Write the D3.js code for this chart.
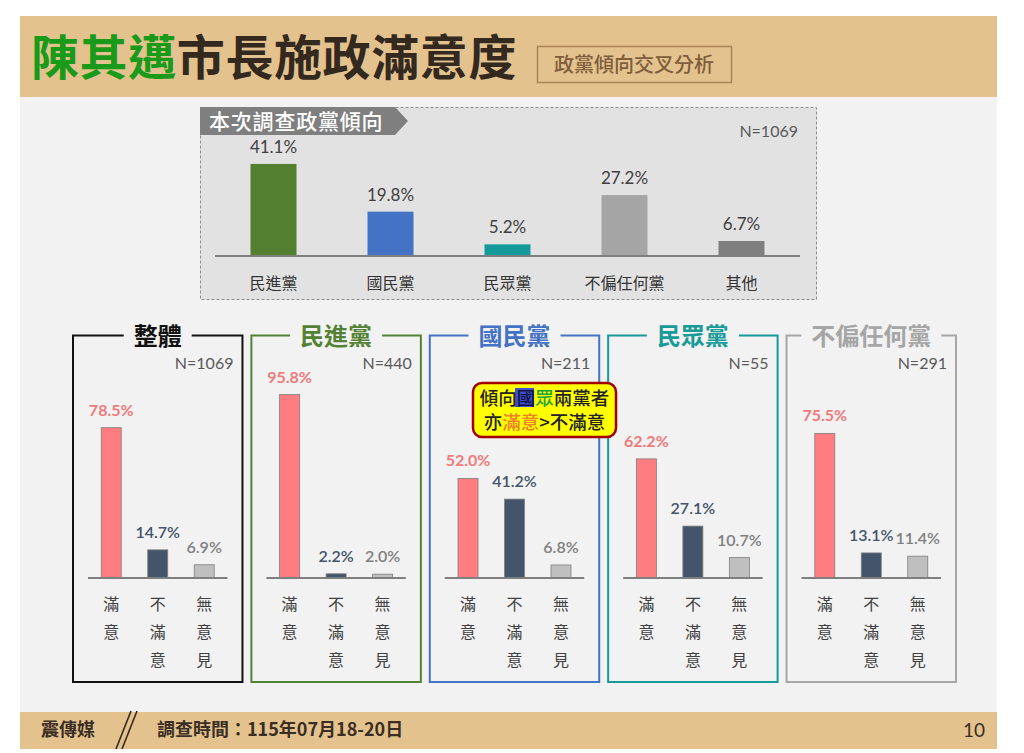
<!DOCTYPE html>
<html>
<head>
<meta charset="utf-8">
<script src="https://cdn.jsdelivr.net/npm/d3@7"></script>
<style>
  html, body { margin: 0; padding: 0; background: #ffffff; }
  svg { display: block; }
  text { font-family: "Noto Sans CJK TC", "Noto Sans", sans-serif; }
  .num { font-family: Lato, "Noto Sans CJK TC", sans-serif; }
</style>
</head>
<body>
<div id="chart"></div>
<script>
// ---- data ----
var partyCats = ["民進黨", "國民黨", "民眾黨", "不偏任何黨", "其他"];
var partyShare = [41.1, 19.8, 5.2, 27.2, 6.7];
var partyColors = ["#527f30", "#4472c4", "#159a9c", "#a5a5a5", "#7f7f7f"];

var groups = ["整體", "民進黨", "國民黨", "民眾黨", "不偏任何黨"];
var groupN = [1069, 440, 211, 55, 291];
var groupColors = ["#111111", "#548235", "#4472c4", "#179a98", "#a6a6a6"];

var answers = ["滿意", "不滿意", "無意見"];
var satisfied   = [78.5, 95.8, 52.0, 62.2, 75.5];
var unsatisfied = [14.7,  2.2, 41.2, 27.1, 13.1];
var noOpinion   = [ 6.9,  2.0,  6.8, 10.7, 11.4];
var answerColors = ["#ff7c80", "#44546a", "#bfbfbf"];
var answerLabelColors = ["#f07a7c", "#44546a", "#7f7f7f"];

var W = 1024, H = 753;

var svg = d3.select("#chart").append("svg")
    .attr("width", W)
    .attr("height", H);

// ---- page frame ----
svg.append("rect").attr("x", 20).attr("y", 97).attr("width", 977).attr("height", 615).attr("fill", "#f2f2f2");
svg.append("rect").attr("x", 20).attr("y", 16).attr("width", 977).attr("height", 81).attr("fill", "#e4c28e");
svg.append("rect").attr("x", 20).attr("y", 712).attr("width", 977).attr("height", 37).attr("fill", "#e4c28e");

var title = svg.append("text")
    .attr("x", 31).attr("y", 75)
    .attr("font-size", 48).attr("font-weight", 700).attr("letter-spacing", 0.6);
title.append("tspan").attr("fill", "#1a9a1a").text("陳其邁");
title.append("tspan").attr("fill", "#33291f").text("市長施政滿意度");

svg.append("rect").attr("x", 537.5).attr("y", 46.5).attr("width", 194).attr("height", 36)
    .attr("fill", "none").attr("stroke", "#a88456").attr("stroke-width", 1.5);
svg.append("text").attr("x", 634).attr("y", 71.5).attr("text-anchor", "middle")
    .attr("font-size", 20).attr("font-weight", 500).attr("fill", "#7d5d3b")
    .text("政黨傾向交叉分析");

// footer
svg.append("text").attr("x", 41).attr("y", 736).attr("font-size", 18).attr("font-weight", 700)
    .attr("fill", "#3a2e24").text("震傳媒");
svg.append("line").attr("x1", 116).attr("y1", 749).attr("x2", 131).attr("y2", 711)
    .attr("stroke", "#33291f").attr("stroke-width", 1.6);
svg.append("line").attr("x1", 122).attr("y1", 749).attr("x2", 137).attr("y2", 711)
    .attr("stroke", "#33291f").attr("stroke-width", 1.6);
svg.append("text").attr("x", 157).attr("y", 736).attr("font-size", 18).attr("font-weight", 700)
    .attr("fill", "#3a2e24").text("調查時間：115年07月18-20日");
svg.append("text").attr("class", "num").attr("x", 985).attr("y", 737).attr("text-anchor", "end")
    .attr("font-size", 19).attr("fill", "#3a2e24").text("10");

// ---- top chart: party tendency ----
var topG = svg.append("g");
topG.append("rect").attr("x", 200.5).attr("y", 107.5).attr("width", 616).attr("height", 192)
    .attr("fill", "#e2e2e2").attr("stroke", "#8c8c8c").attr("stroke-dasharray", "3,2");
topG.append("path")
    .attr("d", "M200,107 L395,107 L408,121 L395,135 L200,135 Z")
    .attr("fill", "#7f7f7f");
topG.append("text").attr("x", 209).attr("y", 129).attr("font-size", 21).attr("font-weight", 500)
    .attr("letter-spacing", 0.8).attr("fill", "#ffffff").text("本次調查政黨傾向");
topG.append("text").attr("class", "num").attr("x", 798).attr("y", 137).attr("text-anchor", "end")
    .attr("font-size", 16).attr("fill", "#595959").text("N=1069");

var xTop = d3.scalePoint().domain(partyCats).range([215, 800]).padding(0.5);
var yTop = d3.scaleLinear().domain([0, 50]).range([256, 144]);
var topBarW = 46;

topG.selectAll(".pbar").data(partyCats).enter().append("rect")
    .attr("class", "pbar")
    .attr("x", function(d) { return xTop(d) - topBarW / 2; })
    .attr("y", function(d, i) { return yTop(partyShare[i]); })
    .attr("width", topBarW)
    .attr("height", function(d, i) { return yTop(0) - yTop(partyShare[i]); })
    .attr("fill", function(d, i) { return partyColors[i]; });

topG.selectAll(".pval").data(partyCats).enter().append("text")
    .attr("class", "num")
    .attr("x", function(d) { return xTop(d); })
    .attr("y", function(d, i) { return yTop(partyShare[i]) - 11; })
    .attr("text-anchor", "middle").attr("font-size", 17).attr("fill", "#404040")
    .text(function(d, i) { return partyShare[i].toFixed(1) + "%"; });

topG.append("line").attr("x1", 215).attr("x2", 800).attr("y1", 256).attr("y2", 256)
    .attr("stroke", "#7f7f7f").attr("stroke-width", 2);

topG.selectAll(".pcat").data(partyCats).enter().append("text")
    .attr("x", function(d) { return xTop(d); })
    .attr("y", 289)
    .attr("text-anchor", "middle").attr("font-size", 16).attr("fill", "#333333")
    .text(function(d) { return d; });

// ---- bottom panels: satisfaction by party ----
var xPanel = d3.scaleBand().domain(groups).range([73, 956]).paddingInner(0.05);
var yBar = d3.scaleLinear().domain([0, 100]).range([578, 386.5]);
var boxTop = 335.5, boxBottom = 682;
var barW = 20;
var series = [satisfied, unsatisfied, noOpinion];

groups.forEach(function(g, gi) {
    var x0 = xPanel(g), bw = xPanel.bandwidth();
    var cx = x0 + bw / 2;
    var panel = svg.append("g");

    var t = panel.append("text")
        .attr("x", cx).attr("y", boxTop + 9)
        .attr("text-anchor", "middle").attr("font-size", 24).attr("font-weight", 700)
        .attr("fill", groupColors[gi]).text(g);
    var tw = t.node().getComputedTextLength();
    var gapL = cx - tw / 2 - 10, gapR = cx + tw / 2 + 10;

    panel.insert("path", "text")
        .attr("d", "M" + gapL + "," + boxTop + " L" + x0 + "," + boxTop + " L" + x0 + "," + boxBottom +
              " L" + (x0 + bw) + "," + boxBottom + " L" + (x0 + bw) + "," + boxTop + " L" + gapR + "," + boxTop)
        .attr("fill", "none").attr("stroke", groupColors[gi]).attr("stroke-width", 2);

    panel.append("text").attr("class", "num")
        .attr("x", x0 + bw - 9).attr("y", 369)
        .attr("text-anchor", "end").attr("font-size", 16).attr("fill", "#595959")
        .text("N=" + groupN[gi]);

    var xa = d3.scalePoint().domain(answers).range([x0 + 15, x0 + bw - 15]).padding(0.5);

    panel.selectAll(".bar").data(answers).enter().append("rect")
        .attr("x", function(d) { return xa(d) - barW / 2; })
        .attr("y", function(d, i) { return yBar(series[i][gi]); })
        .attr("width", barW)
        .attr("height", function(d, i) { return yBar(0) - yBar(series[i][gi]); })
        .attr("fill", function(d, i) { return answerColors[i]; })
        .attr("stroke", "#7f7f7f").attr("stroke-width", 0.8);

    panel.selectAll(".val").data(answers).enter().append("text")
        .attr("class", "num")
        .attr("x", function(d) { return xa(d); })
        .attr("y", function(d, i) { return yBar(series[i][gi]) - 12; })
        .attr("text-anchor", "middle").attr("font-size", 16)
        .attr("font-weight", function(d, i) { return i === 0 ? 700 : 600; })
        .attr("fill", function(d, i) { return answerLabelColors[i]; })
        .text(function(d, i) { return series[i][gi].toFixed(1) + "%"; });

    panel.append("line")
        .attr("x1", x0 + 15).attr("x2", x0 + bw - 15).attr("y1", 578).attr("y2", 578)
        .attr("stroke", "#7f7f7f").attr("stroke-width", 2);

    answers.forEach(function(a) {
        a.split("").forEach(function(ch, k) {
            panel.append("text")
                .attr("x", xa(a)).attr("y", 610 + k * 28)
                .attr("text-anchor", "middle").attr("font-size", 16).attr("fill", "#404040")
                .text(ch);
        });
    });
});

// ---- callout ----
var call = svg.append("g");
call.append("rect").attr("x", 473).attr("y", 383).attr("width", 143).attr("height", 54)
    .attr("rx", 9).attr("fill", "#ffff00").attr("stroke", "#a00000").attr("stroke-width", 2.5);
call.append("rect").attr("x", 515).attr("y", 388).attr("width", 19).attr("height", 19)
    .attr("fill", "#3f51c8");
var l1 = call.append("text").attr("x", 544.5).attr("y", 405).attr("text-anchor", "middle")
    .attr("font-size", 18.5).attr("font-weight", 500).attr("fill", "#222222");
l1.append("tspan").text("傾向");
l1.append("tspan").attr("fill", "#10124a").text("國");
l1.append("tspan").attr("fill", "#1fa33a").text("眾");
l1.append("tspan").text("兩黨者");
var l2 = call.append("text").attr("x", 544.5).attr("y", 429).attr("text-anchor", "middle")
    .attr("font-size", 18.5).attr("font-weight", 500).attr("fill", "#222222");
l2.append("tspan").text("亦");
l2.append("tspan").attr("fill", "#f07d2a").text("滿意");
l2.append("tspan").text(">不滿意");
</script>
</body>
</html>
